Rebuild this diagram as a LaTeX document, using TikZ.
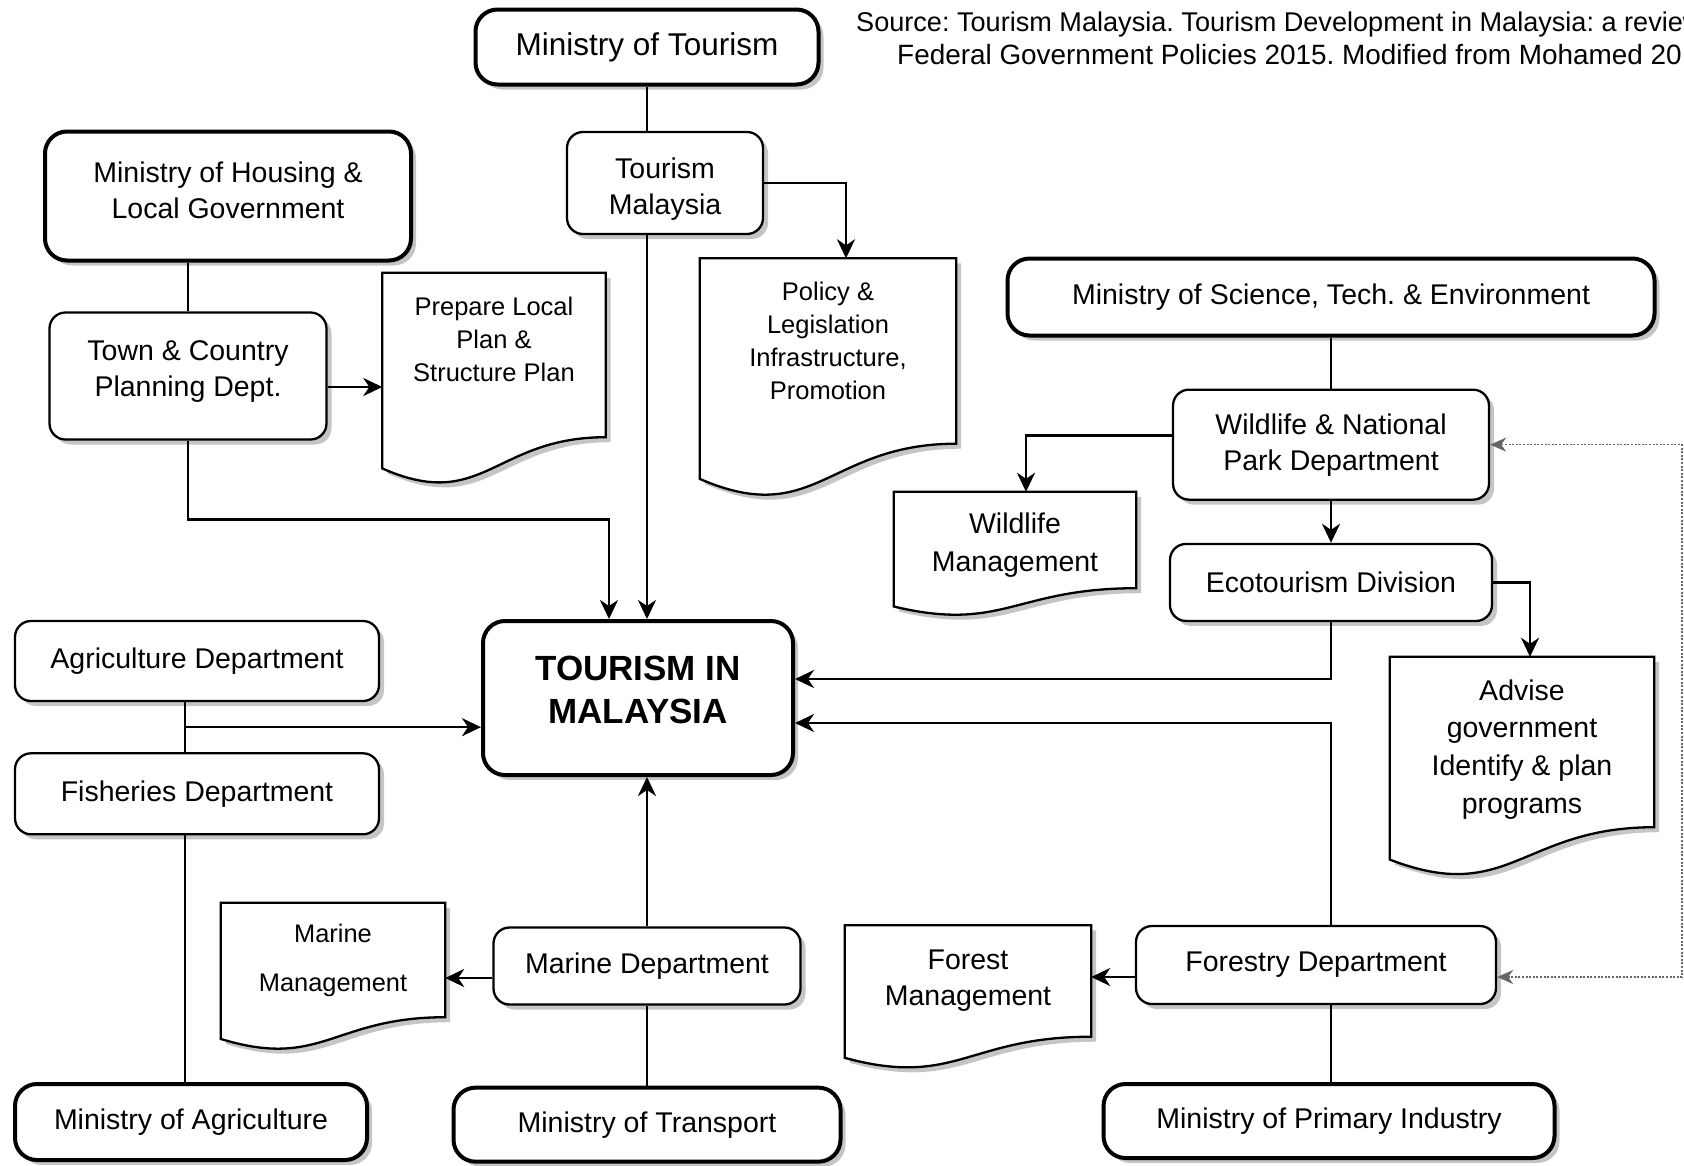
\documentclass[tikz,border=0pt]{standalone}
\usepackage{fontspec}
\setmainfont{Liberation Sans}
\usetikzlibrary{positioning}
\usetikzlibrary{shadows,backgrounds,calc}
\usetikzlibrary{arrows.meta}

% outline of a document node: flat top, wavy bottom
\newcommand{\docshape}[1]{%
  \path[docline] let \p1=(#1.north west), \p2=(#1.south east),
      \n1={\x2-\x1}, \n2={\y1-\y2} in
    (\x1,\y1) -- (\x2,\y1) -- (\x2,\y2)
    .. controls (\x1+0.5*\n1,\y2) and (\x1+0.45*\n1,\y2-0.46*\n2) .. (\x1,\y2-0.19*\n2)
    -- cycle;}

\begin{document}
\frenchspacing
\begin{tikzpicture}
  [x=1pt, y=-1pt,
   every node/.style={align=center, inner sep=0pt, font=\fontsize{28.5}{36}\selectfont},
   box/.style={draw, fill=white, line width=2.3pt, rounded corners=16pt,
     drop shadow={shadow xshift=5pt, shadow yshift=-5pt, fill=black!45}},
   ministry/.style={box, line width=4pt, rounded corners=22pt},
   docline/.style={draw, fill=white, line width=2.3pt,
     drop shadow={shadow xshift=5pt, shadow yshift=-5pt, fill=black!45}},
   small/.style={font=\fontsize{25.5}{33}\selectfont},
   wide/.style={font=\fontsize{28.5}{37.6}\selectfont},
   link/.style={line width=2.6pt},
   arr/.style={link, -{Stealth[length=19pt, width=18pt, inset=6pt]}},
   dotarr/.style={line width=1.5pt, draw=black!60, dash pattern=on 2pt off 1.6pt,
     {Stealth[length=16pt, width=14pt, inset=5pt]}-{Stealth[length=16pt, width=14pt, inset=5pt]}}]

  \useasboundingbox (0,0) rectangle (1684,1165);

  \node[anchor=north west, align=left, font=\fontsize{27.5}{32.3}\selectfont] (src) at (856,12)
    {{\fontsize{27.1}{32.3}\selectfont Source: Tourism Malaysia. Tourism Development in Malaysia: a review}\\
     \hspace*{41pt}{\fontsize{27.9}{32.3}\selectfont Federal Government Policies 2015. Modified from Mohamed 20}};

  % ministries
  \node[ministry, minimum width=343pt, minimum height=75pt, font=\fontsize{31.5}{36}\selectfont] (mot) at (647,47) {Ministry of Tourism};
  \node[ministry, minimum width=366pt, minimum height=129pt, text depth=11pt] (mh) at (228,196) {Ministry of Housing \&\\Local Government};
  \node[ministry, minimum width=647pt, minimum height=77pt] (mste) at (1331,297) {Ministry of Science, Tech. \& Environment};
  \node[ministry, minimum width=310pt, minimum height=154pt, text depth=17pt, font=\bfseries\fontsize{35}{43}\selectfont] (tim) at (638,698) {TOURISM IN\\MALAYSIA};
  \node[ministry, minimum width=352pt, minimum height=76pt] (moa) at (191,1122) {Ministry of Agriculture};
  \node[ministry, minimum width=451pt, minimum height=74pt] (mpi) at (1329,1121) {Ministry of Primary Industry};

  % departments
  \node[box, minimum width=196pt, minimum height=102pt, text height=69pt] (tm) at (665,183) {Tourism\\Malaysia};
  \node[box, minimum width=277pt, minimum height=127pt, text depth=15pt] (tc) at (188,376) {Town \& Country\\Planning Dept.};
  \node[box, minimum width=316pt, minimum height=110pt] (wnp) [below=51pt of mste] {Wildlife \& National\\Park Department};
  \node[box, minimum width=322pt, minimum height=77pt] (eco) [below=42pt of wnp] {Ecotourism Division};
  \node[box, minimum width=364pt, minimum height=80pt] (ad) at (197,661) {Agriculture Department};
  \node[box, minimum width=364pt, minimum height=81pt] (fish) [below=50pt of ad] {Fisheries Department};
  \node[box, minimum width=307pt, minimum height=77pt] (md) at (647,966) {Marine Department};
  \node[ministry, minimum width=387pt, minimum height=74pt] (mtr) [below=80pt of md] {Ministry of Transport};
  \node[box, minimum width=360pt, minimum height=78pt] (fd) at (1316,965) {Forestry Department};

  % documents
  \node[small, minimum width=223pt, minimum height=164pt, text depth=32pt] (pl) at (494,355) {Prepare Local\\Plan \&\\Structure Plan};
  \node[small, minimum width=256pt, minimum height=185pt, text depth=21pt] (pol) at (828,351) {Policy \&\\Legislation\\Infrastructure,\\Promotion};
  \node[wide, minimum width=242pt, minimum height=96pt, text height=68pt] (wm) at (1015,540) {Wildlife\\Management};
  \node[wide, minimum width=264pt, minimum height=170pt, text height=148pt] (adv) at (1522,742) {Advise\\government\\Identify \& plan\\programs};
  \node[minimum width=224pt, minimum height=114pt, font=\fontsize{25.4}{49}\selectfont] (mm) at (333,960) {Marine\\Management};
  \node[minimum width=246pt, minimum height=111pt] (fm) at (968,981) {Forest\\Management};

  \begin{scope}[on background layer]
    \foreach \d in {pl, pol, wm, adv, mm, fm}
      \docshape{\d};
  \end{scope}

  % connectors
  \draw[link] (mot.south) -- (mot.south |- tm.north);
  \draw[arr] (mot.south |- tm.south) -- (mot.south |- tim.north);
  \draw[arr] (tm.east) -| ([xshift=18pt]pol.north);
  \draw[link] (tc.north |- mh.south) -- (tc.north);
  \draw[arr] ([yshift=-11pt]tc.east) -- ([yshift=-11pt]tc.east -| pl.west);
  \draw[arr] (tc.south) -- ++(0,79) -| ([xshift=-29pt]tim.north);

  \draw[link] (mste.south) -- (wnp.north);
  \draw[arr] ([yshift=9pt]wnp.west) -| ([xshift=11pt]wm.north);
  \draw[arr] (wnp.south) -- (eco.north);
  \draw[arr] (eco.east) -| ([xshift=8pt]adv.north);
  \draw[arr] (eco.south) |- ([yshift=19pt]tim.east);
  \draw[arr] (eco.south |- fd.north) |- ([yshift=-25pt]tim.east);
  \draw[dotarr] ([yshift=-12pt]fd.east) -- ++(185,0) |- (wnp.east);

  \coordinate (agj) at ($(ad.south)!0.5!(fish.north)+(-12,0)$);
  \draw[link] ([xshift=-12pt]ad.south) -- ([xshift=-12pt]fish.north);
  \draw[arr] (agj) -- (agj -| tim.west);
  \draw[link] ([xshift=-12pt]fish.south) -- ([xshift=-12pt]fish.south |- moa.north);

  \draw[arr] (md.north) -- (md.north |- tim.south);
  \draw[arr] ([yshift=-12pt]md.west) -- ([yshift=-12pt]md.west -| mm.east);
  \draw[link] (md.south) -- (mtr.north);
  \draw[arr] ([yshift=-12pt]fd.west) -- ([yshift=-12pt]fd.west -| fm.east);
  \draw[link] (eco.south |- fd.south) -- (eco.south |- mpi.north);
\end{tikzpicture}
\end{document}
